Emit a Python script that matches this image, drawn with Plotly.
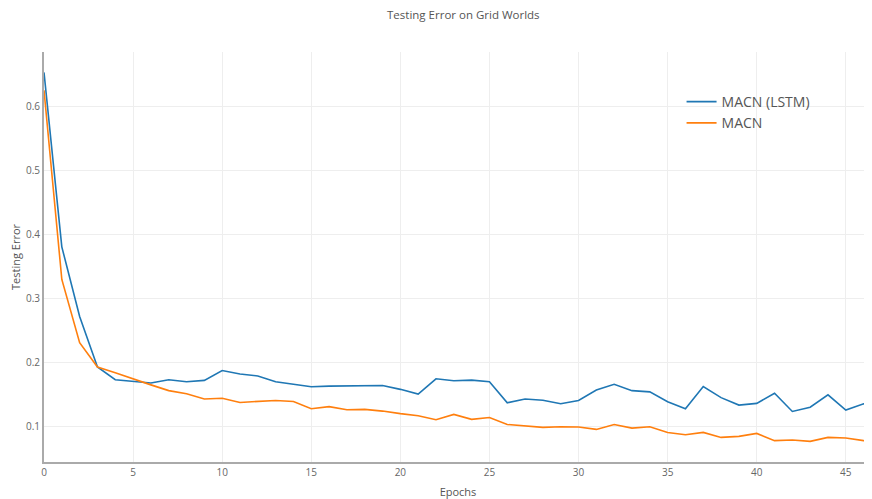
import plotly.graph_objects as go

epochs = list(range(0, 48))
macn_lstm = [0.654, 0.381, 0.272, 0.193, 0.173, 0.170, 0.168, 0.173, 0.170, 0.172,
             0.1875, 0.182, 0.179, 0.170, 0.166, 0.162, 0.163, 0.1636, 0.164, 0.164,
             0.158, 0.1506, 0.1745, 0.1714, 0.1725, 0.170, 0.137, 0.143, 0.141, 0.1355,
             0.1406, 0.157, 0.166, 0.156, 0.154, 0.1386, 0.1277, 0.1625, 0.145, 0.1334,
             0.136, 0.152, 0.1234, 0.130, 0.1495, 0.1256, 0.1355, 0.126]
macn = [0.626, 0.330, 0.231, 0.193, 0.184, 0.174, 0.165, 0.156, 0.151, 0.143,
        0.144, 0.1375, 0.139, 0.1406, 0.139, 0.1277, 0.131, 0.126, 0.1266, 0.124,
        0.120, 0.1167, 0.1105, 0.1188, 0.111, 0.114, 0.103, 0.101, 0.0985, 0.0995,
        0.099, 0.0953, 0.103, 0.0974, 0.0995, 0.0906, 0.087, 0.0906, 0.0828, 0.0844,
        0.089, 0.0777, 0.0787, 0.0766, 0.0828, 0.0818, 0.0777, 0.075]

fig = go.Figure()
fig.add_trace(go.Scatter(x=epochs, y=macn_lstm, mode="lines", name="MACN (LSTM)",
                         line=dict(color="#1f77b4", width=1.6)))
fig.add_trace(go.Scatter(x=epochs, y=macn, mode="lines", name="MACN",
                         line=dict(color="#ff7f0e", width=1.6)))

fig.update_layout(
    width=864, height=491,
    margin=dict(l=36, r=0, t=44, b=37, pad=0),
    paper_bgcolor="white", plot_bgcolor="white",
    font=dict(family="Open Sans", color="#555"),
    title=dict(text="Testing Error on Grid Worlds", x=0.527, xanchor="center",
               y=0.986, yanchor="middle", font=dict(size=11.5, color="#555")),
    legend=dict(x=0.770, y=0.917, xanchor="left", yanchor="top",
                font=dict(size=14, color="#555"), bgcolor="rgba(0,0,0,0)",
                tracegroupgap=0),
    xaxis=dict(range=[0, 46.47], tickvals=[0, 5, 10, 15, 20, 25, 30, 35, 40, 45],
               showgrid=True, gridcolor="#eeeeee", zeroline=False,
               showline=True, linecolor="#aaaaaa", linewidth=2,
               tickfont=dict(size=10, color="#666"), ticks="",
               title=dict(text="Epochs", font=dict(size=11, color="#555"), standoff=14),
               automargin=False),
    yaxis=dict(range=[0.0443, 0.686], tickvals=[0.1, 0.2, 0.3, 0.4, 0.5, 0.6],
               showgrid=True, gridcolor="#eeeeee", zeroline=False,
               showline=True, linecolor="#aaaaaa", linewidth=2,
               tickfont=dict(size=10, color="#666"), ticks="",
               title=dict(text="Testing Error", font=dict(size=11, color="#555"), standoff=10),
               automargin=False),
)

fig.write_html("out.html")
